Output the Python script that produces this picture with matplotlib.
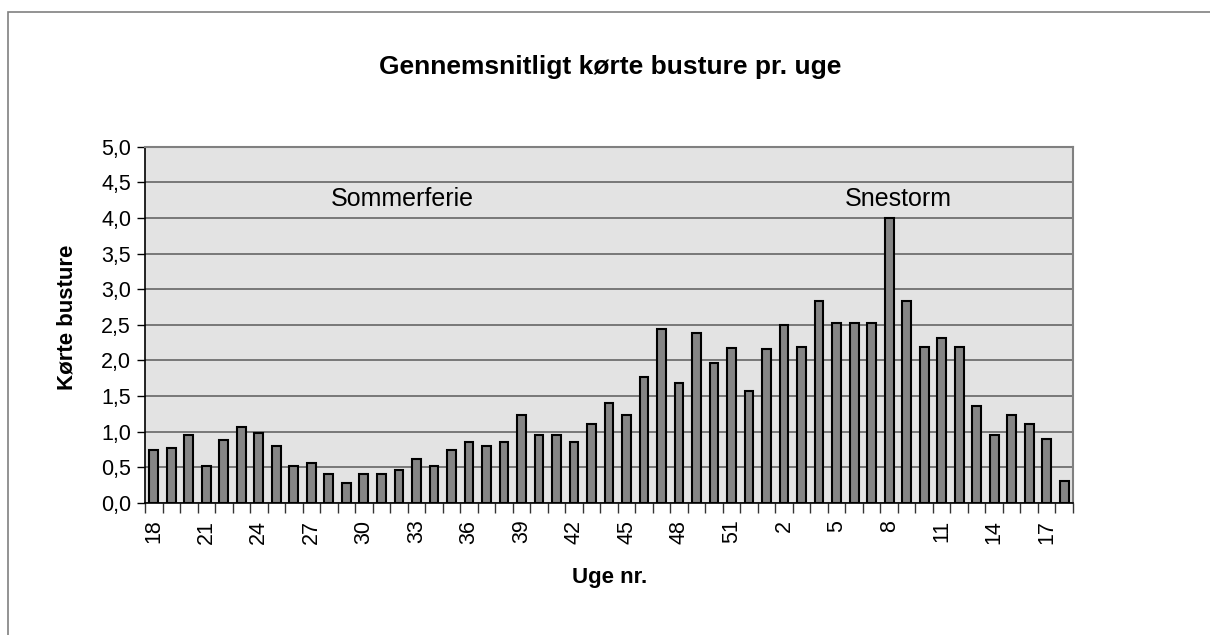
import matplotlib
matplotlib.use("Agg")
import matplotlib.pyplot as plt
from matplotlib.patches import Rectangle

plt.rcParams['font.family'] = ['Liberation Sans', 'DejaVu Sans']

weeks = [18, 19, 20, 21, 22, 23, 24, 25, 26, 27, 28, 29, 30, 31, 32, 33, 34, 35,
         36, 37, 38, 39, 40, 41, 42, 43, 44, 45, 46, 47, 48, 49, 50, 51, 52,
         1, 2, 3, 4, 5, 6, 7, 8, 9, 10, 11, 12, 13, 14, 15, 16, 17, 18]
values = [0.74, 0.77, 0.95, 0.52, 0.89, 1.07, 0.98, 0.80, 0.52, 0.56, 0.40, 0.28,
          0.40, 0.40, 0.46, 0.62, 0.52, 0.74, 0.86, 0.80, 0.86, 1.23, 0.95, 0.95,
          0.86, 1.11, 1.41, 1.23, 1.77, 2.44, 1.69, 2.38, 1.96, 2.17, 1.57,
          2.16, 2.50, 2.19, 2.83, 2.53, 2.53, 2.53, 4.00, 2.83, 2.19, 2.31, 2.19,
          1.36, 0.96, 1.23, 1.11, 0.90, 0.31]
y_ticks = [0.0, 0.5, 1.0, 1.5, 2.0, 2.5, 3.0, 3.5, 4.0, 4.5, 5.0]
y_tick_labels = [f"{v:.1f}".replace(".", ",") for v in y_ticks]

title = "Gennemsnitligt kørte busture pr. uge"
xlabel = "Uge nr."
ylabel = "Kørte busture"
notes = ["Sommerferie", "Snestorm"]
note_x = [14.2, 42.5]

fig = plt.figure(figsize=(12.10, 6.35), dpi=100)
fig.patch.set_facecolor("white")
fig.patches.append(Rectangle((8 / 1210, -0.05), 1.2, 1 - 12 / 635 + 0.05,
                             transform=fig.transFigure, fill=False,
                             edgecolor="#808080", linewidth=1.2, zorder=0))

ax = fig.add_axes([145 / 1210, 1 - 503 / 635, (1073 - 145) / 1210, (503 - 146.7) / 635])
ax.set_facecolor("#e3e3e3")

x = list(range(len(values)))
ax.bar(x, values, width=0.5, color="#858585", edgecolor="black", linewidth=1.5, zorder=3)

ax.set_xlim(-0.5, len(values) - 0.5)
ax.set_ylim(0, 5.0)
ax.set_yticks(y_ticks)
ax.set_yticklabels(y_tick_labels, fontsize=15.5)
ax.yaxis.grid(True, color="#5a5a5a", linewidth=1.1, zorder=1)
ax.set_axisbelow(True)

ax.set_xticks(x[::3])
ax.set_xticklabels([str(w) for w in weeks[::3]], rotation=90, fontsize=15.5)
ax.tick_params(axis="x", length=0, pad=12)
ax.set_xticks([i - 0.5 for i in range(len(values) + 1)], minor=True)
ax.tick_params(axis="x", which="minor", length=7, color="#333333", width=1)
ax.tick_params(axis="y", length=6, width=1, color="black", pad=4)

for s in ["top", "right"]:
    ax.spines[s].set_color("#808080")
    ax.spines[s].set_linewidth(1.5)
for s in ["left", "bottom"]:
    ax.spines[s].set_color("black")
    ax.spines[s].set_linewidth(1.2)

for t, xx in zip(notes, note_x):
    ax.text(xx, 4.27, t, ha="center", va="center", fontsize=18)

fig.text(610 / 1210, 1 - 67 / 635, title, ha="center", va="center",
         fontsize=19, fontweight="bold")
fig.text(610 / 1210, 1 - 578 / 635, xlabel, ha="center", va="center",
         fontsize=16, fontweight="bold")
fig.text(67 / 1210, 1 - 317 / 635, ylabel, ha="center", va="center",
         rotation=90, fontsize=16, fontweight="bold")

fig.savefig("out.png", dpi=100)
